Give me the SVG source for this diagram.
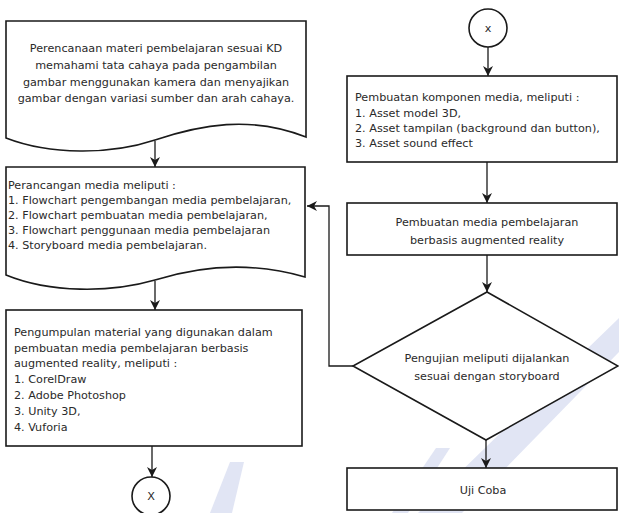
<svg xmlns="http://www.w3.org/2000/svg" width="619" height="513" viewBox="0 0 619 513">
<style>
.shape{fill:#fff;stroke:#1a1a1a;stroke-width:1.6}
.conn{fill:none;stroke:#1a1a1a;stroke-width:1.3}
text{font-family:"DejaVu Sans","Verdana",sans-serif;font-size:11.2px;fill:#2a2a2a}
.c{text-anchor:middle}
.wm{fill:#e1e5f4}
</style>
<defs>
<marker id="ah" viewBox="0 0 10 10" refX="10" refY="5" markerWidth="10" markerHeight="10" markerUnits="userSpaceOnUse" orient="auto">
<path d="M0,0 L10,5 L0,10 L3,5 Z" fill="#1a1a1a"/>
</marker>
</defs>
<rect width="619" height="513" fill="#fff"/>
<g id="watermark">
<polygon class="wm" points="418,513 462,513 619,352 619,318"/>
<polygon class="wm" points="392,513 408,513 450,448 436,448"/>
<polygon class="wm" points="210,513 232,513 244,462 230,462"/>
</g>
<g id="n1">
<path class="shape" d="M6,21 H306 V137 C250,115 200,125 155,140 C110,155 50,155 6,138 Z"/>
<text class="c" x="156" y="52">Perencanaan materi pembelajaran sesuai KD</text>
<text class="c" x="156" y="69">memahami tata cahaya pada pengambilan</text>
<text class="c" x="156" y="86">gambar menggunakan kamera dan menyajikan</text>
<text class="c" x="156" y="102">gambar dengan variasi sumber dan arah cahaya.</text>
</g>
<g id="n2">
<path class="shape" d="M6,167 H305 V277 C250,261 200,266 155,280 C110,293 50,293 6,275 Z"/>
<text x="8" y="189">Perancangan media meliputi :</text>
<text x="8" y="204">1. Flowchart pengembangan media pembelajaran,</text>
<text x="8" y="219">2. Flowchart pembuatan media pembelajaran,</text>
<text x="8" y="234">3. Flowchart penggunaan media pembelajaran</text>
<text x="8" y="249">4. Storyboard media pembelajaran.</text>
</g>
<g id="n3">
<rect class="shape" x="6" y="310" width="296" height="136"/>
<text x="14" y="336">Pengumpulan material yang digunakan dalam</text>
<text x="14" y="352">pembuatan media pembelajaran berbasis</text>
<text x="14" y="367">augmented reality, meliputi :</text>
<text x="14" y="383">1. CorelDraw</text>
<text x="14" y="399">2. Adobe Photoshop</text>
<text x="14" y="415">3. Unity 3D,</text>
<text x="14" y="431">4. Vuforia</text>
</g>
<g id="n4">
<circle class="shape" cx="151" cy="496" r="19"/>
<text class="c" x="151" y="500">X</text>
</g>
<g id="n5">
<circle class="shape" cx="488" cy="28" r="19"/>
<text class="c" x="488" y="32">x</text>
</g>
<g id="n6">
<rect class="shape" x="347" y="76" width="270" height="86"/>
<text x="355" y="101">Pembuatan komponen media, meliputi :</text>
<text x="355" y="117">1. Asset model 3D,</text>
<text x="355" y="132">2. Asset tampilan (background dan button),</text>
<text x="355" y="147">3. Asset sound effect</text>
</g>
<g id="n7">
<rect class="shape" x="347" y="203" width="270" height="52"/>
<text class="c" x="487" y="226">Pembuatan media pembelajaran</text>
<text class="c" x="487" y="244">berbasis augmented reality</text>
</g>
<g id="n8">
<polygon class="shape" points="487,292 618,366 486,440 353,366"/>
<text class="c" x="487" y="362">Pengujian meliputi dijalankan</text>
<text class="c" x="487" y="380">sesuai dengan storyboard</text>
</g>
<g id="n9">
<rect class="shape" x="347" y="468" width="270" height="42"/>
<text class="c" x="483" y="494">Uji Coba</text>
</g>
<g id="connectors">
<line class="conn" x1="155" y1="141" x2="155" y2="167" marker-end="url(#ah)"/>
<line class="conn" x1="155" y1="281" x2="155" y2="310" marker-end="url(#ah)"/>
<line class="conn" x1="152" y1="446" x2="152" y2="477" marker-end="url(#ah)"/>
<line class="conn" x1="488" y1="47" x2="488" y2="76" marker-end="url(#ah)"/>
<line class="conn" x1="487" y1="162" x2="487" y2="203" marker-end="url(#ah)"/>
<line class="conn" x1="487" y1="255" x2="487" y2="292" marker-end="url(#ah)"/>
<line class="conn" x1="486" y1="440" x2="486" y2="468" marker-end="url(#ah)"/>
<polyline class="conn" points="353,366 329,366 329,206 307,206" marker-end="url(#ah)"/>
</g>
</svg>
